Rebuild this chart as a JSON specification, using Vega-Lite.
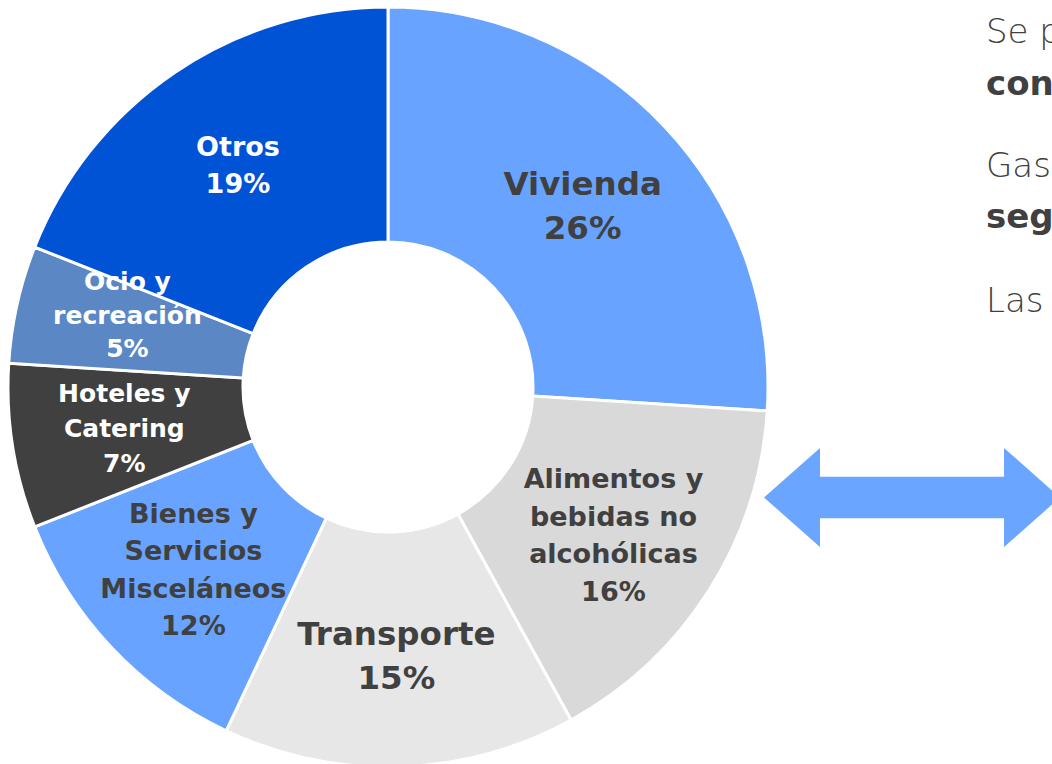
{
  "$schema": "https://vega.github.io/schema/vega-lite/v6.json",
  "width": 776,
  "height": 754,
  "autosize": {"type": "none"},
  "padding": {"left": 0, "top": 10, "right": 276, "bottom": 0},
  "background": "white",
  "config": {"view": {"stroke": null}},
  "datasets": {
    "gasto": [
      {"orden": 1, "categoria": "Vivienda", "pct": 26, "label": "Vivienda\n26%"},
      {"orden": 2, "categoria": "Alimentos y bebidas no alcohólicas", "pct": 16, "label": "Alimentos y\nbebidas no\nalcohólicas\n16%"},
      {"orden": 3, "categoria": "Transporte", "pct": 15, "label": "Transporte\n15%"},
      {"orden": 4, "categoria": "Bienes y Servicios Misceláneos", "pct": 12, "label": "Bienes y\nServicios\nMisceláneos\n12%"},
      {"orden": 5, "categoria": "Hoteles y Catering", "pct": 7, "label": "Hoteles y\nCatering\n7%"},
      {"orden": 6, "categoria": "Ocio y recreación", "pct": 5, "label": "Ocio y\nrecreación\n5%"},
      {"orden": 7, "categoria": "Otros", "pct": 19, "label": "Otros\n19%"}
    ],
    "flecha": [
      {"x": 912, "y": 497.5}
    ],
    "texto_normal": [
      {"x": 986, "y": 43, "t": "Se presenta la estructura del gasto"},
      {"x": 986, "y": 177, "t": "Gasto total de los hogares"},
      {"x": 986, "y": 312, "t": "Las categorías principales"}
    ],
    "texto_negrita": [
      {"x": 986, "y": 95, "t": "consumo final de los hogares"},
      {"x": 986, "y": 228, "t": "según categoría"}
    ]
  },
  "layer": [
    {
      "data": {"name": "gasto"},
      "encoding": {
        "theta": {"field": "pct", "type": "quantitative", "stack": true},
        "order": {"field": "orden", "type": "quantitative"}
      },
      "layer": [
        {
          "mark": {"type": "arc", "outerRadius": 380, "innerRadius": 145, "stroke": "white", "strokeWidth": 3},
          "encoding": {
            "color": {
              "field": "categoria",
              "type": "nominal",
              "legend": null,
              "scale": {
                "domain": ["Vivienda", "Alimentos y bebidas no alcohólicas", "Transporte", "Bienes y Servicios Misceláneos", "Hoteles y Catering", "Ocio y recreación", "Otros"],
                "range": ["#68A4FF", "#D9D9D9", "#E7E7E7", "#68A4FF", "#404040", "#5B87C5", "#0053D5"]
              }
            }
          }
        },
        {
          "mark": {"type": "text", "radius": 267, "dy": -19, "font": "DejaVu Sans", "fontWeight": "bold", "fontSize": 32.5, "lineHeight": 44, "lineBreak": "\n", "color": "#404040", "align": "center", "baseline": "middle"},
          "encoding": {
            "text": {"condition": {"test": "datum.categoria === 'Vivienda' || datum.categoria === 'Transporte'", "field": "label"}, "value": ""}
          }
        },
        {
          "mark": {"type": "text", "radius": 267, "dy": -50, "font": "DejaVu Sans", "fontWeight": "bold", "fontSize": 27, "lineHeight": 37.5, "lineBreak": "\n", "color": "#404040", "align": "center", "baseline": "middle"},
          "encoding": {
            "text": {"condition": {"test": "datum.categoria === 'Alimentos y bebidas no alcohólicas'", "field": "label"}, "value": ""}
          }
        },
        {
          "mark": {"type": "text", "radius": 267, "dy": -55, "font": "DejaVu Sans", "fontWeight": "bold", "fontSize": 27, "lineHeight": 37.5, "lineBreak": "\n", "color": "#404040", "align": "center", "baseline": "middle"},
          "encoding": {
            "text": {"condition": {"test": "datum.categoria === 'Bienes y Servicios Misceláneos'", "field": "label"}, "value": ""}
          }
        },
        {
          "mark": {"type": "text", "radius": 267, "dy": -35, "font": "DejaVu Sans", "fontWeight": "bold", "fontSize": 25, "lineHeight": 35, "lineBreak": "\n", "color": "white", "align": "center", "baseline": "middle"},
          "encoding": {
            "text": {"condition": {"test": "datum.categoria === 'Hoteles y Catering'", "field": "label"}, "value": ""}
          }
        },
        {
          "mark": {"type": "text", "radius": 267, "dy": -46.5, "font": "DejaVu Sans", "fontWeight": "bold", "fontSize": 25, "lineHeight": 33.5, "lineBreak": "\n", "color": "white", "align": "center", "baseline": "middle"},
          "encoding": {
            "text": {"condition": {"test": "datum.categoria === 'Ocio y recreación'", "field": "label"}, "value": ""}
          }
        },
        {
          "mark": {"type": "text", "radius": 267, "dy": -18.5, "font": "DejaVu Sans", "fontWeight": "bold", "fontSize": 27, "lineHeight": 37, "lineBreak": "\n", "color": "white", "align": "center", "baseline": "middle"},
          "encoding": {
            "text": {"condition": {"test": "datum.categoria === 'Otros'", "field": "label"}, "value": ""}
          }
        }
      ]
    },
    {
      "data": {"name": "flecha"},
      "mark": {
        "type": "point",
        "filled": true,
        "opacity": 1,
        "color": "#6AA6FF",
        "size": 87616,
        "shape": "M-1,0 L-0.6216,-0.3345 L-0.6216,-0.1402 L0.6216,-0.1402 L0.6216,-0.3345 L1,0 L0.6216,0.3345 L0.6216,0.1402 L-0.6216,0.1402 L-0.6216,0.3345 Z"
      },
      "encoding": {
        "x": {"field": "x", "type": "quantitative", "axis": null, "scale": {"domain": [0, 776], "zero": false, "nice": false}},
        "y": {"field": "y", "type": "quantitative", "axis": null, "scale": {"domain": [10, 764], "reverse": true, "zero": false, "nice": false}}
      }
    },
    {
      "data": {"name": "texto_normal"},
      "mark": {"type": "text", "font": "DejaVu Sans", "fontWeight": 300, "fontSize": 34, "color": "#404040", "align": "left", "baseline": "alphabetic"},
      "encoding": {
        "x": {"field": "x", "type": "quantitative"},
        "y": {"field": "y", "type": "quantitative"},
        "text": {"field": "t"}
      }
    },
    {
      "data": {"name": "texto_negrita"},
      "mark": {"type": "text", "font": "DejaVu Sans", "fontWeight": "bold", "fontSize": 34, "color": "#404040", "align": "left", "baseline": "alphabetic"},
      "encoding": {
        "x": {"field": "x", "type": "quantitative"},
        "y": {"field": "y", "type": "quantitative"},
        "text": {"field": "t"}
      }
    }
  ]
}
